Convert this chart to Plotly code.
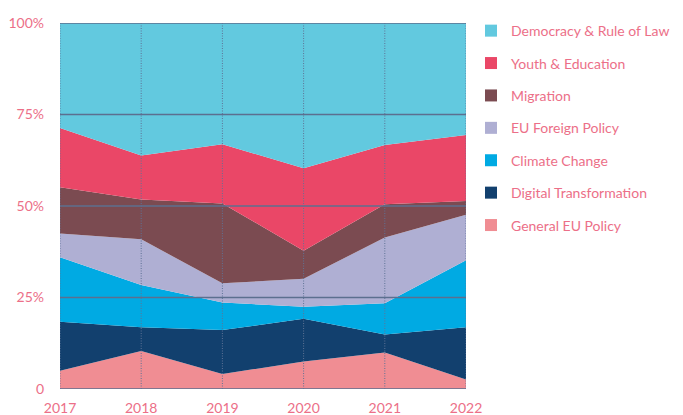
import plotly.graph_objects as go

years = [2017, 2018, 2019, 2020, 2021, 2022]

general_eu = [5.0, 10.4, 4.1, 7.5, 10.0, 2.6]
digital = [13.4, 6.5, 12.0, 11.7, 4.9, 14.3]
climate = [17.6, 11.5, 7.5, 3.3, 8.5, 18.3]
foreign = [6.5, 12.5, 5.3, 7.6, 18.0, 12.4]
migration = [12.6, 10.9, 21.8, 7.7, 9.1, 3.8]
youth = [16.2, 12.0, 16.2, 22.5, 16.2, 18.0]
democracy = [28.7, 36.2, 33.1, 39.7, 33.3, 30.6]

series = [
    ("General EU Policy", general_eu, "#F08D93"),
    ("Digital Transformation", digital, "#12406E"),
    ("Climate Change", climate, "#00AAE3"),
    ("EU Foreign Policy", foreign, "#AFAFD3"),
    ("Migration", migration, "#7B4B51"),
    ("Youth & Education", youth, "#EA4767"),
    ("Democracy & Rule of Law", democracy, "#62C9DF"),
]

y_ticks = [0, 25, 50, 75, 100]
y_tick_text = ["0", "25%", "50%", "75%", "100%"]

text_color = "#EC6F88"
grid_color = "#5C6F8F"
vgrid_color = "#5F7396"

fig = go.Figure()

for name, vals, color in series:
    fig.add_trace(go.Scatter(
        x=years, y=vals, name=name, stackgroup="one", groupnorm="percent",
        mode="lines", line=dict(width=0, color=color), fillcolor=color,
        showlegend=False, hoverinfo="x+y+name",
    ))

for name, vals, color in reversed(series):
    fig.add_trace(go.Scatter(
        x=[None], y=[None], name=name, mode="markers", legendgroup=name,
        marker=dict(symbol="square", size=13, color=color),
    ))

shapes = []
for t in y_ticks:
    shapes.append(dict(type="line", xref="paper", x0=0, x1=1, yref="y", y0=t, y1=t,
                       line=dict(color=grid_color, width=1.5), layer="above"))
for yr in years:
    shapes.append(dict(type="line", xref="x", x0=yr, x1=yr, yref="paper", y0=0, y1=1,
                       line=dict(color=vgrid_color, width=1, dash="1px,1.5px"),
                       layer="above"))

fig.update_layout(
    width=683, height=415,
    margin=dict(l=60, r=217, t=23, b=26, autoexpand=False),
    paper_bgcolor="white", plot_bgcolor="white",
    font=dict(family="Lato", size=14, color=text_color),
    shapes=shapes,
    showlegend=True,
    legend=dict(
        x=1.0123, xanchor="left", y=0.713, yanchor="middle", xref="paper", yref="paper",
        traceorder="grouped", tracegroupgap=11.2,
        font=dict(family="Lato", size=14, color=text_color),
        itemsizing="constant", itemwidth=30,
        bgcolor="rgba(0,0,0,0)",
    ),
    xaxis=dict(
        range=[2017, 2022], tickmode="array", tickvals=years,
        ticktext=[str(y) for y in years], showgrid=False, zeroline=False,
        showline=False, ticks="", ticklabelstandoff=9, automargin=False,
        tickfont=dict(family="Lato", size=14, color=text_color),
    ),
    yaxis=dict(
        range=[0, 100], tickmode="array", tickvals=y_ticks, ticktext=y_tick_text,
        showgrid=False, zeroline=False, showline=False, ticks="",
        ticklabelstandoff=15, automargin=False,
        tickfont=dict(family="Lato", size=14, color=text_color),
    ),
)

fig.write_html("out.html", config={"displayModeBar": False},
               post_script="document.body.style.margin='0';")
